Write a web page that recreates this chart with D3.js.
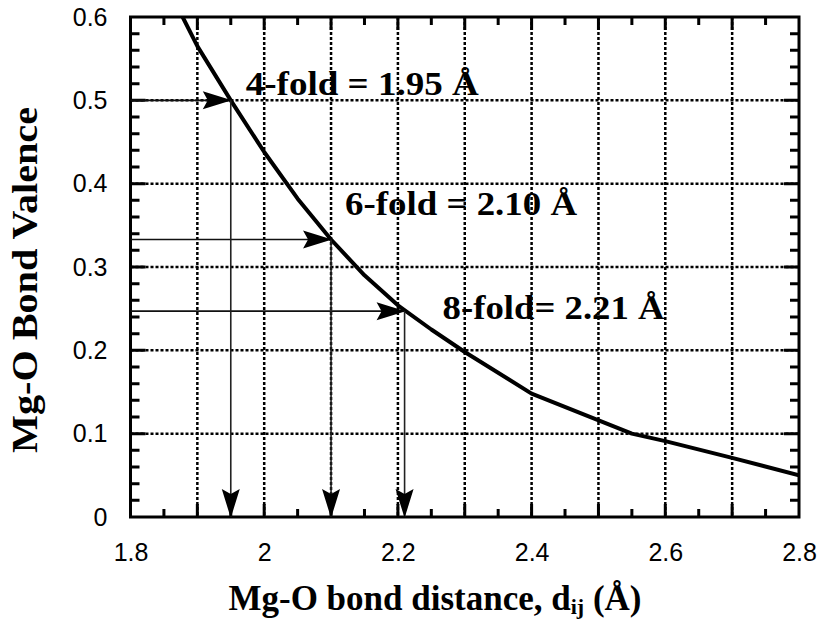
<!DOCTYPE html>
<html>
<head>
<meta charset="utf-8">
<script src="https://cdn.jsdelivr.net/npm/d3@7"></script>
<style>
  body { margin: 0; background: #fff; }
  svg { display: block; }
</style>
</head>
<body>
<svg id="chart" width="825" height="622"></svg>
<script>
// -----------------------------
// Data
// -----------------------------
const xTickLabels = [1.8, 2, 2.2, 2.4, 2.6, 2.8];
const yTickLabels = [0, 0.1, 0.2, 0.3, 0.4, 0.5, 0.6];
const xGrid = [1.9, 2.0, 2.1, 2.2, 2.3, 2.4, 2.5, 2.6, 2.7];
const yGrid = [0.1, 0.2, 0.3, 0.4, 0.5];

// bond valence curve
const distance = [1.878, 1.9, 1.95, 2.0, 2.05, 2.1, 2.15, 2.2, 2.25, 2.3, 2.4, 2.55, 2.6, 2.7, 2.8];
const valence = [0.6, 0.565, 0.5, 0.438, 0.382, 0.333, 0.29, 0.254, 0.225, 0.198, 0.148, 0.1, 0.091, 0.071, 0.05];

// coordination markers
const foldLabels = ["4-fold = 1.95 Å", "6-fold = 2.10 Å", "8-fold= 2.21 Å"];
const foldDistance = [1.95, 2.10, 2.21];
const foldValence = [0.5, 0.333, 0.247];

// label placement relative to the marked point (style, not data)
const labelOffset = [[15, -5], [14, -25], [38, 8]];
const labelWidth = [233, 232, 222];

// -----------------------------
// Scales
// -----------------------------
const svg = d3.select("#chart");
const plotLeft = 130.5, plotRight = 799, plotTop = 17, plotBottom = 517;

const x = d3.scaleLinear().domain([1.8, 2.8]).range([plotLeft, plotRight]);
const y = d3.scaleLinear().domain([0, 0.6]).range([plotBottom, plotTop]);

const serif = "'Liberation Serif', 'Times New Roman', serif";
const sans = "'Liberation Sans', Arial, sans-serif";

// -----------------------------
// Grid
// -----------------------------
const grid = svg.append("g")
  .attr("stroke", "#000")
  .attr("stroke-width", 2.5)
  .attr("stroke-dasharray", "3,2");

grid.selectAll(".gx")
  .data(xGrid)
  .join("line")
  .attr("class", "gx")
  .attr("x1", (d) => x(d)).attr("x2", (d) => x(d))
  .attr("y1", plotTop).attr("y2", plotBottom);

grid.selectAll(".gy")
  .data(yGrid)
  .join("line")
  .attr("class", "gy")
  .attr("x1", plotLeft).attr("x2", plotRight)
  .attr("y1", (d) => y(d)).attr("y2", (d) => y(d));

// -----------------------------
// Ticks on all four sides (pointing inward), one path
// -----------------------------
const xMinor = d3.range(1.85, 2.8, 0.1);
const xMajor = d3.range(1.9, 2.75, 0.1);
const yMinor = d3.range(0.02, 0.6, 0.02).filter((d) => Math.abs(d * 10 - Math.round(d * 10)) > 1e-6);
const yMajor = yGrid;

const tickPath = d3.path();
xMinor.forEach((d) => {
  tickPath.moveTo(x(d), plotBottom); tickPath.lineTo(x(d), plotBottom - 8);
  tickPath.moveTo(x(d), plotTop); tickPath.lineTo(x(d), plotTop + 8);
});
xMajor.forEach((d) => {
  tickPath.moveTo(x(d), plotBottom); tickPath.lineTo(x(d), plotBottom - 13);
  tickPath.moveTo(x(d), plotTop); tickPath.lineTo(x(d), plotTop + 13);
});
yMinor.forEach((d) => {
  tickPath.moveTo(plotLeft, y(d)); tickPath.lineTo(plotLeft + 9, y(d));
  tickPath.moveTo(plotRight, y(d)); tickPath.lineTo(plotRight - 9, y(d));
});
yMajor.forEach((d) => {
  tickPath.moveTo(plotLeft, y(d)); tickPath.lineTo(plotLeft + 15, y(d));
  tickPath.moveTo(plotRight, y(d)); tickPath.lineTo(plotRight - 15, y(d));
});

svg.append("path")
  .attr("d", tickPath.toString())
  .attr("fill", "none")
  .attr("stroke", "#000")
  .attr("stroke-width", 3);

// tick labels
svg.append("g")
  .attr("transform", `translate(0,${plotBottom})`)
  .call(d3.axisBottom(x).tickValues(xTickLabels).tickSize(0).tickPadding(26).tickFormat(d3.format("")))
  .call((g) => g.select(".domain").remove())
  .call((g) => g.selectAll("text")
    .style("font-family", sans).style("font-size", "25px").attr("fill", "#000"));

svg.append("g")
  .attr("transform", `translate(${plotLeft},0)`)
  .call(d3.axisLeft(y).tickValues(yTickLabels).tickSize(0).tickPadding(23).tickFormat(d3.format("")))
  .call((g) => g.select(".domain").remove())
  .call((g) => g.selectAll("text")
    .style("font-family", sans).style("font-size", "25px").attr("fill", "#000"));

// frame
svg.append("rect")
  .attr("x", plotLeft).attr("y", plotTop)
  .attr("width", plotRight - plotLeft).attr("height", plotBottom - plotTop)
  .attr("fill", "none")
  .attr("stroke", "#000")
  .attr("stroke-width", 3);

// -----------------------------
// Curve
// -----------------------------
const defs = svg.append("defs");
defs.append("clipPath").attr("id", "plotClip")
  .append("rect")
  .attr("x", plotLeft).attr("y", plotTop)
  .attr("width", plotRight - plotLeft).attr("height", plotBottom - plotTop);

const points = distance.map((d, i) => [d, valence[i]]);
const valenceLine = d3.line().x((d) => x(d[0])).y((d) => y(d[1]));

svg.append("path")
  .datum(points)
  .attr("clip-path", "url(#plotClip)")
  .attr("d", valenceLine)
  .attr("fill", "none")
  .attr("stroke", "#000")
  .attr("stroke-width", 4)
  .attr("stroke-linejoin", "round");

// -----------------------------
// Arrows
// -----------------------------
defs.append("marker")
  .attr("id", "head")
  .attr("markerUnits", "userSpaceOnUse")
  .attr("viewBox", "-30 -10 32 20")
  .attr("refX", 0).attr("refY", 0)
  .attr("markerWidth", 32).attr("markerHeight", 20)
  .attr("orient", "auto")
  .append("path")
  .attr("d", "M1,0 L-28,-9 L-23,0 L-28,9 Z")
  .attr("fill", "#000");

const marks = foldLabels.map((label, i) => ({
  label,
  d: foldDistance[i],
  v: foldValence[i],
  off: labelOffset[i],
  w: labelWidth[i],
}));

const arrows = svg.append("g");

arrows.selectAll(".h")
  .data(marks)
  .join("line")
  .attr("class", "h")
  .attr("x1", plotLeft).attr("x2", (m) => x(m.d))
  .attr("y1", (m) => y(m.v)).attr("y2", (m) => y(m.v))
  .attr("stroke", "#111")
  .attr("stroke-width", 1.6)
  .attr("marker-end", "url(#head)");

arrows.selectAll(".v")
  .data(marks)
  .join("line")
  .attr("class", "v")
  .attr("x1", (m) => x(m.d)).attr("x2", (m) => x(m.d))
  .attr("y1", (m) => y(m.v)).attr("y2", plotBottom)
  .attr("stroke", "#222")
  .attr("stroke-width", 1.6)
  .attr("marker-end", "url(#head)");

svg.append("g")
  .selectAll("text")
  .data(marks)
  .join("text")
  .attr("x", (m) => x(m.d) + m.off[0])
  .attr("y", (m) => y(m.v) + m.off[1])
  .attr("textLength", (m) => m.w)
  .attr("lengthAdjust", "spacingAndGlyphs")
  .style("font-family", serif)
  .style("font-weight", "bold")
  .style("font-size", "33px")
  .attr("fill", "#000")
  .text((m) => m.label);

// -----------------------------
// Axis titles
// -----------------------------
const xTitle = svg.append("text")
  .attr("x", 435)
  .attr("y", 610)
  .attr("text-anchor", "middle")
  .style("font-family", serif)
  .style("font-weight", "bold")
  .style("font-size", "35px")
  .attr("fill", "#000");
xTitle.append("tspan").text("Mg-O bond distance, d");
xTitle.append("tspan").attr("dy", 4).style("font-size", "22px").text("ij");
xTitle.append("tspan").attr("dy", -4).text(" (Å)");

svg.append("text")
  .attr("transform", "translate(37,280) rotate(-90)")
  .attr("text-anchor", "middle")
  .attr("textLength", 346)
  .attr("lengthAdjust", "spacingAndGlyphs")
  .style("font-family", serif)
  .style("font-weight", "bold")
  .style("font-size", "35px")
  .attr("fill", "#000")
  .text("Mg-O Bond Valence");
</script>
</body>
</html>
